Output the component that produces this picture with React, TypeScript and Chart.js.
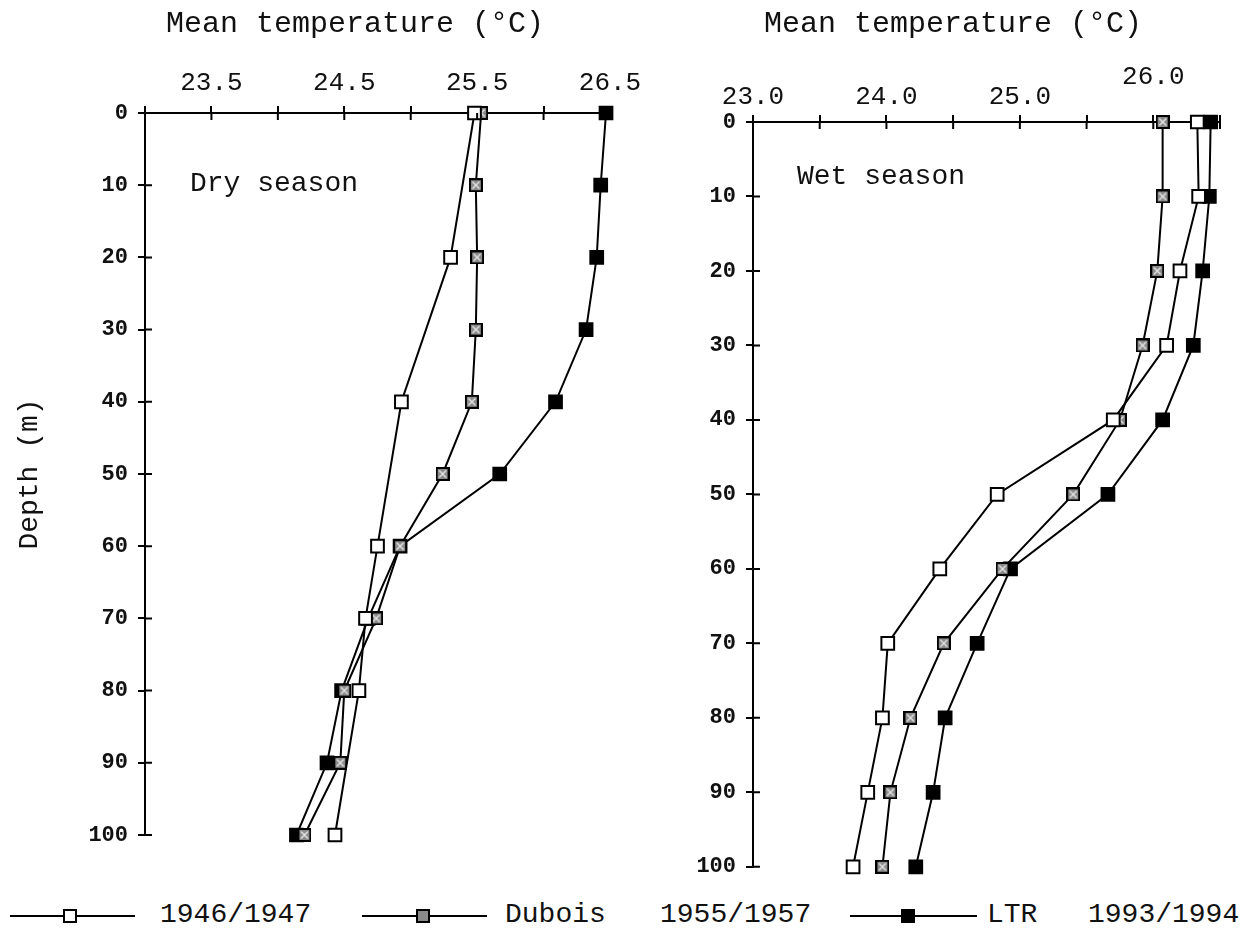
import React, { useEffect, useRef } from 'react';
import { Chart, registerables } from 'chart.js';
Chart.register(...registerables);

// ---------- data ----------
const allDepths = [0, 10, 20, 30, 40, 50, 60, 70, 80, 90, 100];
const dry1946Depths = [0, 20, 40, 60, 70, 80, 100];
const dry1946 = [25.48, 25.3, 24.93, 24.75, 24.66, 24.61, 24.43];
const dryDubois = [25.53, 25.49, 25.5, 25.49, 25.46, 25.24, 24.92, 24.74, 24.5, 24.47, 24.2];
const dryLTR = [26.47, 26.43, 26.4, 26.32, 26.09, 25.67, 24.92, 24.68, 24.48, 24.37, 24.14];
const wet1946 = [26.33, 26.34, 26.2, 26.1, 25.7, 24.83, 24.4, 24.01, 23.97, 23.86, 23.75];
const wetDubois = [26.07, 26.07, 26.03, 25.92, 25.75, 25.4, 24.87, 24.43, 24.18, 24.03, 23.97];
const wetLTR = [26.43, 26.42, 26.37, 26.3, 26.07, 25.66, 24.93, 24.68, 24.44, 24.35, 24.22];

const seriesLabels = ['1946/1947', 'Dubois  1955/1957', 'LTR  1993/1994'];
const xTitle = 'Mean temperature (°C)';
const yTitle = 'Depth (m)';
const dryLabel = 'Dry season';
const wetLabel = 'Wet season';

const MONO = '"Liberation Mono", "DejaVu Sans Mono", monospace';

function makeDuboisMarker(): HTMLCanvasElement {
  const c = document.createElement('canvas');
  c.width = 14;
  c.height = 14;
  const g = c.getContext('2d')!;
  g.fillStyle = '#000';
  g.fillRect(0, 0, 14, 14);
  g.fillStyle = '#8a8a8a';
  g.fillRect(2, 2, 10, 10);
  g.strokeStyle = '#e8e8e8';
  g.lineWidth = 1.4;
  g.beginPath();
  g.moveTo(3.5, 3.5);
  g.lineTo(10.5, 10.5);
  g.moveTo(10.5, 3.5);
  g.lineTo(3.5, 10.5);
  g.stroke();
  return c;
}

function pts(depths: number[], temps: number[]) {
  return temps.map((t, i) => ({ x: t, y: depths[i] }));
}

function makeDatasets(d1946: { x: number; y: number }[], dDub: { x: number; y: number }[], dLtr: { x: number; y: number }[], dub: HTMLCanvasElement) {
  const base = {
    showLine: true,
    clip: false,
    borderColor: '#000',
    borderWidth: 2,
    pointBorderColor: '#000',
    pointBorderWidth: 2,
    pointRadius: 9,
    pointHoverRadius: 9,
  };
  return [
    { ...base, label: seriesLabels[0], data: d1946, pointStyle: 'rect', pointBackgroundColor: '#fff' },
    { ...base, label: seriesLabels[1], data: dDub, pointStyle: dub, pointBackgroundColor: '#888' },
    { ...base, label: seriesLabels[2], data: dLtr, pointStyle: 'rect', pointBackgroundColor: '#000' },
  ];
}

type TextItem = { text: string; x: number; y: number; font: string; align: CanvasTextAlign };

function extrasPlugin(texts: TextItem[]) {
  return {
    id: 'extras',
    afterDraw(chart: any) {
      const ctx = chart.ctx as CanvasRenderingContext2D;
      const area = chart.chartArea;
      ctx.save();
      // inner halves of tick marks (ticks cross the axis lines)
      ctx.strokeStyle = '#000';
      ctx.lineWidth = 2;
      const xs = chart.scales.x;
      const ys = chart.scales.y;
      ctx.beginPath();
      xs.ticks.forEach((t: any) => {
        const p = xs.getPixelForValue(t.value);
        ctx.moveTo(p, area.top);
        ctx.lineTo(p, area.top + 7);
      });
      ys.ticks.forEach((t: any) => {
        const p = ys.getPixelForValue(t.value);
        ctx.moveTo(area.left, p);
        ctx.lineTo(area.left + 7, p);
      });
      ctx.stroke();
      // texts
      ctx.fillStyle = '#111';
      ctx.textBaseline = 'middle';
      texts.forEach((t) => {
        ctx.font = t.font;
        ctx.textAlign = t.align;
        ctx.fillText(t.text, t.x, t.y);
      });
      ctx.restore();
    },
  };
}

function makeOptions(opts: {
  xHeight: number;
  yWidth: number;
  padding: any;
  xCallback: (v: number) => any;
  xLineHeight: number;
  xPad: number;
  showYTitle: boolean;
}) {
  return {
    responsive: false,
    animation: false as const,
    events: [],
    layout: { padding: opts.padding },
    plugins: { legend: { display: false }, tooltip: { enabled: false }, title: { display: false } },
    scales: {
      x: {
        type: 'linear' as const,
        position: 'top' as const,
        min: 23,
        max: 26.5,
        afterFit: (s: any) => {
          s.height = opts.xHeight;
        },
        ticks: {
          stepSize: 0.5,
          autoSkip: false,
          maxRotation: 0,
          includeBounds: true,
          color: '#111',
          padding: opts.xPad,
          font: { family: MONO, size: 26, lineHeight: opts.xLineHeight },
          callback: (v: any) => opts.xCallback(Number(v)),
        },
        grid: { drawOnChartArea: false, drawTicks: true, tickLength: 7, color: '#000', lineWidth: 2 },
        border: { display: true, color: '#000', width: 2 },
      },
      y: {
        type: 'linear' as const,
        position: 'left' as const,
        reverse: true,
        min: 0,
        max: 100,
        afterFit: (s: any) => {
          s.width = opts.yWidth;
        },
        ticks: {
          stepSize: 10,
          autoSkip: false,
          color: '#111',
          padding: 10,
          font: { family: MONO, size: 22, weight: 'bold' as const },
        },
        title: {
          display: opts.showYTitle,
          text: yTitle,
          color: '#111',
          font: { family: MONO, size: 28 },
          padding: { top: 13, bottom: 0 },
        },
        grid: { drawOnChartArea: false, drawTicks: true, tickLength: 7, color: '#000', lineWidth: 2 },
        border: { display: true, color: '#000', width: 2 },
      },
    },
  };
}

const isHalf = (v: number) => Math.abs(v * 2 - Math.round(v * 2)) < 1e-6 && Math.round(v * 2) % 2 !== 0;
const isWhole = (v: number) => Math.abs(v - Math.round(v)) < 1e-6;

function DryChart() {
  const ref = useRef<HTMLCanvasElement>(null);
  useEffect(() => {
    const dub = makeDuboisMarker();
    const chart = new Chart(ref.current!, {
      type: 'scatter',
      data: {
        datasets: makeDatasets(pts(dry1946Depths, dry1946), pts(allDepths, dryDubois), pts(allDepths, dryLTR), dub) as any,
      },
      options: makeOptions({
        xHeight: 113,
        yWidth: 145,
        padding: { left: 0, top: 0, right: 40, bottom: 35 },
        xCallback: (v) => (isHalf(v) ? v.toFixed(1) : ''),
        xLineHeight: 1.2,
        xPad: 7,
        showYTitle: true,
      }) as any,
      plugins: [
        extrasPlugin([
          { text: xTitle, x: 355, y: 24, font: `30px ${MONO}`, align: 'center' },
          { text: dryLabel, x: 190, y: 184, font: `28px ${MONO}`, align: 'left' },
        ]),
      ],
    });
    return () => chart.destroy();
  }, []);
  return (
    <canvas
      ref={ref}
      width={650}
      height={870}
      style={{ position: 'absolute', left: 0, top: 0, width: 650, height: 870 }}
    />
  );
}

function WetChart() {
  const ref = useRef<HTMLCanvasElement>(null);
  useEffect(() => {
    const dub = makeDuboisMarker();
    const chart = new Chart(ref.current!, {
      type: 'scatter',
      data: {
        datasets: makeDatasets(pts(allDepths, wet1946), pts(allDepths, wetDubois), pts(allDepths, wetLTR), dub) as any,
      },
      options: makeOptions({
        xHeight: 122,
        yWidth: 113,
        padding: { left: 0, top: 0, right: 29, bottom: 22 },
        xCallback: (v) => {
          if (!isWhole(v)) return '';
          if (Math.round(v) === 26) return ['26.0', ''];
          return v.toFixed(1);
        },
        xLineHeight: 0.8,
        xPad: 7,
        showYTitle: false,
      }) as any,
      plugins: [
        extrasPlugin([
          { text: xTitle, x: 313, y: 24, font: `30px ${MONO}`, align: 'center' },
          { text: wetLabel, x: 157, y: 177, font: `28px ${MONO}`, align: 'left' },
        ]),
      ],
    });
    return () => chart.destroy();
  }, []);
  return (
    <canvas
      ref={ref}
      width={609}
      height={890}
      style={{ position: 'absolute', left: 640, top: 0, width: 609, height: 890 }}
    />
  );
}

function LegendSample({ left, width, marker, kind }: { left: number; width: number; marker: number; kind: 'open' | 'dub' | 'fill' }) {
  const y = 916;
  const markerStyle: React.CSSProperties = {
    position: 'absolute',
    left: marker - 7,
    top: y - 7,
    width: 10,
    height: 10,
    border: '2px solid #000',
    background: kind === 'open' ? '#fff' : kind === 'fill' ? '#000' : '#8a8a8a',
  };
  return (
    <>
      <div style={{ position: 'absolute', left, top: y - 1, width, height: 2, background: '#000' }} />
      <div style={markerStyle} />
    </>
  );
}

const legendText: React.CSSProperties = {
  position: 'absolute',
  top: 899,
  fontFamily: MONO,
  fontSize: 28,
  lineHeight: '32px',
  color: '#111',
  whiteSpace: 'pre',
};

export default function App() {
  return (
    <div style={{ position: 'absolute', left: 0, top: 0, width: 1249, height: 941, background: '#fff', overflow: 'hidden' }}>
      <DryChart />
      <WetChart />
      <LegendSample left={10} width={125} marker={70} kind="open" />
      <div style={{ ...legendText, left: 160 }}>1946/1947</div>
      <LegendSample left={362} width={125} marker={423} kind="dub" />
      <div style={{ ...legendText, left: 505 }}>Dubois</div>
      <div style={{ ...legendText, left: 660 }}>1955/1957</div>
      <LegendSample left={850} width={127} marker={908} kind="fill" />
      <div style={{ ...legendText, left: 987 }}>LTR</div>
      <div style={{ ...legendText, left: 1088 }}>1993/1994</div>
    </div>
  );
}
